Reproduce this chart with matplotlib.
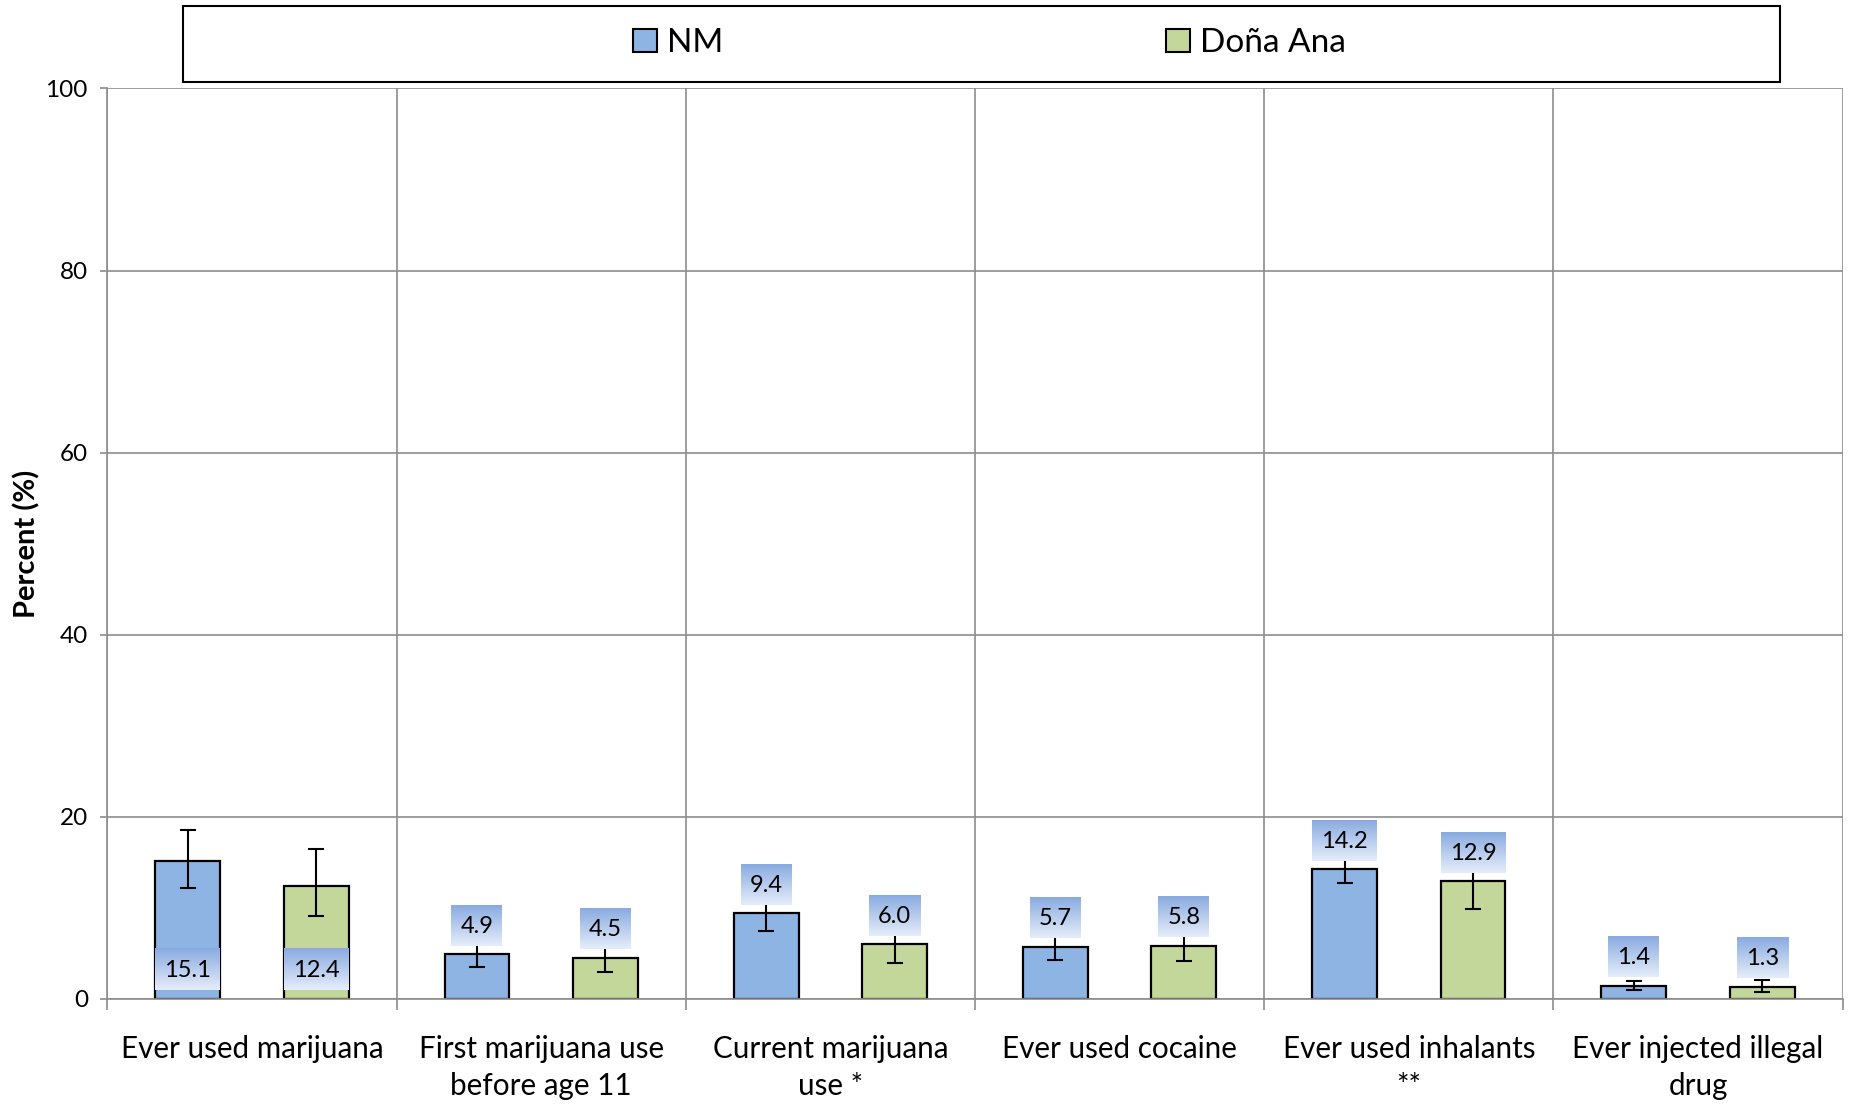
import numpy as np
import matplotlib
matplotlib.use("Agg")
import matplotlib.pyplot as plt
from matplotlib.patches import Patch, Rectangle

plt.rcParams['font.family'] = ['Lato', 'DejaVu Sans']

# data
categories = ["Ever used marijuana", "First marijuana use\nbefore age 11",
              "Current marijuana\nuse *", "Ever used cocaine",
              "Ever used inhalants\n**", "Ever injected illegal\ndrug"]
series_names = ["NM", "Doña Ana"]
nm_vals = [15.1, 4.9, 9.4, 5.7, 14.2, 1.4]
nm_low = [12.2, 3.5, 7.4, 4.2, 12.7, 1.0]
nm_high = [18.5, 6.3, 11.5, 7.2, 15.8, 1.9]
da_vals = [12.4, 4.5, 6.0, 5.8, 12.9, 1.3]
da_low = [9.1, 2.9, 3.9, 4.1, 9.9, 0.7]
da_high = [16.5, 6.1, 8.1, 7.6, 15.7, 2.1]
label_at_base = [True, False, False, False, False, False]
yticks = [0, 20, 40, 60, 80, 100]

DPI = 100
GRID = '#8c8c8c'
colors = ['#8eb4e3', '#c4d79b']

fig = plt.figure(figsize=(18.51, 11.06), dpi=DPI)
ax = fig.add_axes([0.058, 0.097, 0.9955 - 0.058, 0.92 - 0.097])

x = np.arange(len(categories))
bw = 0.224
offs = [-0.222, 0.222]
vals = [nm_vals, da_vals]
lows = [nm_low, da_low]
highs = [nm_high, da_high]

for i in range(2):
    v = np.array(vals[i])
    err = np.array([v - np.array(lows[i]), np.array(highs[i]) - v])
    ax.bar(x + offs[i], v, bw, color=colors[i], edgecolor='black', linewidth=1.6, zorder=2)
    ax.errorbar(x + offs[i], v, yerr=err, fmt='none', ecolor='black', elinewidth=1.5,
                capsize=5.5, capthick=1.5, zorder=3)

ax.set_xlim(-0.5, len(categories) - 0.5)
ax.set_ylim(0, 100)
ax.set_yticks(yticks)
ax.set_xticks(np.arange(len(categories) + 1) - 0.5)
ax.set_xticklabels([])
ax.set_xticks(x, minor=True)
ax.set_xticklabels(categories, minor=True, fontsize=21.3, linespacing=1.4)
ax.tick_params(axis='x', which='minor', length=0, pad=26)
ax.tick_params(axis='x', which='major', length=8, width=1.2, color=GRID)
ax.tick_params(axis='y', length=5, width=1.2, color=GRID, pad=9, labelsize=17.5)
ax.grid(True, which='major', color=GRID, linewidth=1.2, zorder=0)
ax.set_axisbelow(True)
for s in ['top', 'right']:
    ax.spines[s].set_visible(False)
for s in ['left', 'bottom']:
    ax.spines[s].set_color(GRID)
    ax.spines[s].set_linewidth(1.2)
ax.set_ylabel("Percent (%)", fontsize=21, fontweight='bold', labelpad=4)

# value labels with gradient boxes
off_px = 28
texts = []
for i in range(2):
    for j, v in enumerate(vals[i]):
        base = 0 if label_at_base[j] else v
        t = ax.annotate(f"{v:.1f}", (x[j] + offs[i], base), xytext=(0, off_px * 72 / DPI),
                        textcoords='offset points', ha='center', va='center',
                        fontsize=17, zorder=6)
        texts.append((t, x[j] + offs[i], base))

fig.canvas.draw()
renderer = fig.canvas.get_renderer()
grad = np.linspace(0, 1, 64)[:, None]
top_c = np.array([0.54, 0.67, 0.88])
bot_c = np.array([0.90, 0.93, 0.98])
img = (top_c[None, None, :] * (1 - grad[..., None]) + bot_c[None, None, :] * grad[..., None])
inv = ax.transData.inverted()
for t, xc, base in texts:
    bb = t.get_window_extent(renderer)
    cx, cy = ax.transData.transform((xc, base))
    cy += off_px
    w = bb.width + 18
    h = 41
    (x0, y0) = inv.transform((cx - w / 2, cy - h / 2 + 1))
    (x1, y1) = inv.transform((cx + w / 2, cy + h / 2 + 1))
    ax.imshow(img, extent=[x0, x1, y0, y1], aspect='auto', zorder=4, interpolation='bilinear')
ax.set_xlim(-0.5, len(categories) - 0.5)
ax.set_ylim(0, 100)

# legend
fig.patches.append(Rectangle((0.0989, 0.926), 0.9616 - 0.0989, 0.9946 - 0.926,
                             transform=fig.transFigure, facecolor='white',
                             edgecolor='black', linewidth=1.5))
handles = [Patch(facecolor=colors[k], edgecolor='black', linewidth=1.5) for k in range(2)]
fig.legend(handles, series_names, loc='center', bbox_to_anchor=(0.5345, 0.961), ncol=2,
           frameon=False, fontsize=24, handlelength=0.7, handleheight=0.7,
           handletextpad=0.3, columnspacing=13.3)

fig.savefig("out.png", dpi=DPI)
